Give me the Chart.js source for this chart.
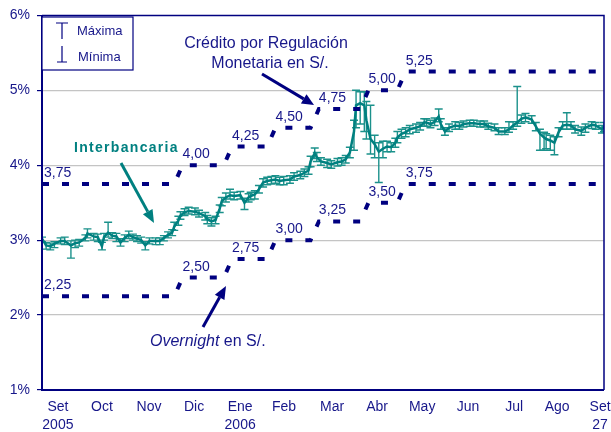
<!DOCTYPE html>
<html><head><meta charset="utf-8">
<script src="https://cdn.jsdelivr.net/npm/chart.js@4.4.1/dist/chart.umd.min.js"></script>
<style>html,body{margin:0;padding:0;background:#fff}#wrap{width:611px;height:432px;position:relative}canvas{display:block}</style>
</head><body><div id="wrap"><canvas id="c" width="611" height="432" style="width:611px;height:432px"></canvas></div>
<script>
// ---- data ----
const xTickLabels = [["Set","2005"],["Oct"],["Nov"],["Dic"],["Ene","2006"],["Feb"],["Mar"],["Abr"],["May"],["Jun"],["Jul"],["Ago"],["Set","27"]];
const xTickIdx = [7.7,29,51.8,73.6,95.9,117.1,140.4,162.2,184,206.2,228.5,249.3,270.1];
const yTicks = [1,2,3,4,5,6];

const dayIdx = [0,2,4,6,9,11,14,16,18,21,22,25,27,29,30,32,34,36,38,40,42,44,46,48,50,52,55,57,59,61,63,64,66,67,69,71,74,76,79,80,82,84,86,87,89,91,93,96,98,100,101,103,105,107,109,111,113,115,117,120,122,125,127,129,130,132,133,135,138,140,143,145,147,149,151,152,154,156,157,159,161,163,165,167,169,171,172,174,176,178,181,183,185,186,188,190,192,193,195,197,200,202,204,207,209,212,214,216,219,221,224,226,228,230,232,234,237,239,241,243,244,246,248,250,252,254,256,258,261,263,266,268,271,272];
const interbank = [3.02,2.93,2.92,2.95,2.99,2.99,2.93,2.96,2.97,3.03,3.09,3.05,3.04,2.92,3.04,3.10,3.06,3.05,2.97,3.03,3.07,3.04,3.02,3.00,2.93,2.99,2.99,2.99,3.03,3.07,3.10,3.18,3.26,3.33,3.37,3.39,3.38,3.36,3.32,3.28,3.25,3.27,3.42,3.52,3.57,3.60,3.59,3.60,3.50,3.57,3.59,3.61,3.68,3.77,3.79,3.80,3.81,3.79,3.80,3.81,3.85,3.87,3.90,3.93,4.05,4.16,4.11,4.05,4.03,4.01,4.04,4.05,4.08,4.17,4.45,4.80,4.83,4.80,4.60,4.35,4.28,4.18,4.22,4.25,4.24,4.30,4.37,4.42,4.44,4.48,4.50,4.52,4.57,4.57,4.55,4.58,4.65,4.55,4.45,4.50,4.53,4.52,4.55,4.56,4.56,4.55,4.55,4.52,4.50,4.45,4.45,4.48,4.53,4.57,4.62,4.64,4.61,4.52,4.42,4.37,4.35,4.33,4.30,4.44,4.53,4.54,4.53,4.48,4.46,4.50,4.54,4.53,4.48,4.52];
const interMax = [3.04,2.97,2.96,2.98,3.03,3.04,2.99,3.00,3.01,3.07,3.15,3.09,3.08,2.97,3.09,3.24,3.10,3.09,3.02,3.07,3.12,3.08,3.06,3.04,2.98,3.03,3.03,3.03,3.06,3.11,3.14,3.24,3.32,3.38,3.42,3.44,3.43,3.40,3.37,3.33,3.30,3.32,3.47,3.57,3.63,3.68,3.64,3.65,3.56,3.62,3.64,3.66,3.73,3.82,3.84,3.85,3.86,3.84,3.85,3.86,3.90,3.92,3.95,3.98,4.12,4.23,4.17,4.10,4.08,4.06,4.09,4.10,4.13,4.24,4.60,5.00,4.98,4.98,4.85,4.80,4.40,4.30,4.32,4.32,4.30,4.36,4.45,4.48,4.50,4.53,4.55,4.57,4.62,4.62,4.60,4.63,4.75,4.62,4.50,4.55,4.58,4.57,4.59,4.60,4.60,4.59,4.59,4.56,4.55,4.50,4.50,4.58,4.58,5.05,4.67,4.69,4.66,4.57,4.48,4.44,4.42,4.40,4.38,4.50,4.58,4.70,4.58,4.53,4.51,4.55,4.58,4.57,4.53,4.57];
const interMin = [2.98,2.88,2.87,2.90,2.95,2.94,2.76,2.90,2.92,2.99,3.03,3.00,2.98,2.87,3.00,3.04,3.02,2.98,2.92,2.98,3.02,3.00,2.98,2.96,2.87,2.95,2.94,2.94,2.99,3.03,3.06,3.13,3.20,3.28,3.33,3.35,3.34,3.31,3.27,3.22,3.19,3.22,3.37,3.46,3.51,3.55,3.54,3.55,3.41,3.51,3.54,3.55,3.63,3.71,3.74,3.75,3.76,3.74,3.74,3.76,3.80,3.82,3.85,3.88,3.98,4.09,4.05,4.00,3.97,3.96,3.99,4.00,4.03,4.10,4.20,4.50,4.55,4.45,4.35,4.15,4.10,3.77,4.10,4.18,4.18,4.24,4.30,4.36,4.38,4.42,4.44,4.47,4.52,4.52,4.50,4.53,4.58,4.48,4.40,4.45,4.48,4.48,4.51,4.52,4.52,4.51,4.51,4.48,4.46,4.41,4.41,4.44,4.48,4.52,4.56,4.58,4.56,4.46,4.20,4.20,4.22,4.20,4.14,4.38,4.48,4.48,4.48,4.43,4.40,4.44,4.49,4.48,4.43,4.45];

const stepIdx = [0,64,68,88,92,109,113,130,134,154,158,172,176,272];
const creditRate = [3.75,3.75,4.00,4.00,4.25,4.25,4.50,4.50,4.75,4.75,5.00,5.00,5.25,5.25];
const overnightRate = [2.25,2.25,2.50,2.50,2.75,2.75,3.00,3.00,3.25,3.25,3.50,3.50,3.75,3.75];

// ---- styles ----
const NAVY = '#000080';
const TXT = '#17178a';
const TEAL = '#008080';
const TEAL_BAR = '#1b918b';
const FONT = '"Liberation Sans", Arial, sans-serif';

const pts = (xs, ys) => xs.map((x, i) => ({x: x, y: ys[i]}));

const errorBars = {
  id: 'errorBars',
  beforeDatasetsDraw(chart) {
    const {ctx, chartArea: a, scales: {x, y}} = chart;
    ctx.save();
    ctx.beginPath(); ctx.rect(a.left, a.top, a.right - a.left, a.bottom - a.top); ctx.clip();
    ctx.strokeStyle = TEAL_BAR; ctx.lineWidth = 1.4;
    dayIdx.forEach((d, i) => {
      const px = x.getPixelForValue(d);
      const t = y.getPixelForValue(interMax[i]);
      const b = y.getPixelForValue(interMin[i]);
      ctx.beginPath();
      ctx.moveTo(px, t); ctx.lineTo(px, b);
      ctx.moveTo(px - 4, t); ctx.lineTo(px + 4, t);
      ctx.moveTo(px - 4, b); ctx.lineTo(px + 4, b);
      ctx.stroke();
    });
    ctx.restore();
  }
};

function arrow(ctx, x1, y1, x2, y2, color, w, hl, hw) {
  const ang = Math.atan2(y2 - y1, x2 - x1);
  const bx = x2 - hl * Math.cos(ang), by = y2 - hl * Math.sin(ang);
  ctx.save();
  ctx.strokeStyle = color; ctx.fillStyle = color; ctx.lineWidth = w;
  ctx.beginPath(); ctx.moveTo(x1, y1); ctx.lineTo(bx, by); ctx.stroke();
  ctx.beginPath();
  ctx.moveTo(x2, y2);
  ctx.lineTo(bx + hw / 2 * Math.sin(ang), by - hw / 2 * Math.cos(ang));
  ctx.lineTo(bx - hw / 2 * Math.sin(ang), by + hw / 2 * Math.cos(ang));
  ctx.closePath(); ctx.fill();
  ctx.restore();
}

const decor = {
  id: 'decor',
  afterDraw(chart) {
    const {ctx, chartArea: a, scales: {x, y}} = chart;
    ctx.save();
    // frame
    ctx.strokeStyle = NAVY;
    ctx.lineWidth = 1.5;
    ctx.beginPath(); ctx.moveTo(a.left, a.top); ctx.lineTo(a.right, a.top); ctx.lineTo(a.right, a.bottom); ctx.stroke();
    ctx.lineWidth = 2;
    ctx.beginPath(); ctx.moveTo(a.left, a.top); ctx.lineTo(a.left, a.bottom); ctx.lineTo(a.right, a.bottom); ctx.stroke();

    // level labels
    ctx.fillStyle = TXT; ctx.font = '14px ' + FONT; ctx.textBaseline = 'alphabetic'; ctx.textAlign = 'left';
    [creditRate, overnightRate].forEach(series => {
      for (let i = 0; i < stepIdx.length; i += 2) {
        const px = x.getPixelForValue(stepIdx[i]) + (i === 0 ? 2 : 0);
        const py = y.getPixelForValue(series[i]) - 7;
        ctx.fillText(series[i].toFixed(2).replace('.', ','), px, py);
      }
    });

    // legend box
    ctx.fillStyle = '#fff';
    ctx.fillRect(a.left, 17, 91, 53);
    ctx.strokeStyle = NAVY; ctx.lineWidth = 1.2;
    ctx.strokeRect(a.left, 17, 91, 53);
    ctx.beginPath();
    ctx.moveTo(62, 23); ctx.lineTo(62, 39); ctx.moveTo(56, 23); ctx.lineTo(68, 23);
    ctx.moveTo(62, 46); ctx.lineTo(62, 62); ctx.moveTo(57, 62); ctx.lineTo(67, 62);
    ctx.stroke();
    ctx.fillStyle = TXT; ctx.font = '13px ' + FONT; ctx.textBaseline = 'middle';
    ctx.fillText('Máxima', 77, 31);
    ctx.fillText('Mínima', 78, 57);

    // credit annotation
    ctx.font = '16px ' + FONT; ctx.textAlign = 'center';
    ctx.fillText('Crédito por Regulación', 266, 44);
    ctx.fillText('Monetaria en S/.', 270, 64);
    arrow(ctx, 262, 74, 314, 105, NAVY, 3, 12, 11);

    // interbank annotation
    ctx.textAlign = 'left'; ctx.textBaseline = 'alphabetic';
    ctx.fillStyle = TEAL; ctx.font = 'bold 14px ' + FONT;
    if ('letterSpacing' in ctx) ctx.letterSpacing = '1.3px';
    ctx.fillText('Interbancaria', 74, 152);
    if ('letterSpacing' in ctx) ctx.letterSpacing = '0px';
    arrow(ctx, 121, 163, 154, 223, TEAL, 3, 13, 11);

    // overnight annotation
    ctx.fillStyle = TXT;
    ctx.font = 'italic 16px ' + FONT;
    ctx.fillText('Overnight', 150, 346);
    const w = ctx.measureText('Overnight').width;
    ctx.font = '16px ' + FONT;
    ctx.fillText(' en S/.', 150 + w, 346);
    arrow(ctx, 203, 327, 226, 286, NAVY, 3, 13, 11);
    ctx.restore();
  }
};

new Chart(document.getElementById('c'), {
  type: 'line',
  data: {
    datasets: [
      {label: 'Crédito por Regulación Monetaria', data: pts(stepIdx, creditRate), borderColor: NAVY, borderWidth: 4, borderDash: [7, 13], borderCapStyle: 'butt', pointRadius: 0, tension: 0, fill: false},
      {label: 'Overnight', data: pts(stepIdx, overnightRate), borderColor: NAVY, borderWidth: 4, borderDash: [7, 13], borderCapStyle: 'butt', pointRadius: 0, tension: 0, fill: false},
      {label: 'Interbancaria', data: pts(dayIdx, interbank), borderColor: TEAL, borderWidth: 2.5, pointRadius: 0, tension: 0, fill: false}
    ]
  },
  options: {
    responsive: false,
    maintainAspectRatio: false,
    animation: false,
    devicePixelRatio: 1,
    layout: {padding: {left: 0, right: 7, top: 14, bottom: 0}},
    plugins: {legend: {display: false}, tooltip: {enabled: false}},
    scales: {
      x: {
        type: 'linear', min: 0, max: 272,
        afterBuildTicks: s => { s.ticks = xTickIdx.map(v => ({value: v})); },
        afterFit: s => { s.height = 42; s.paddingLeft = 0; s.paddingRight = 0; },
        grid: {display: false, drawTicks: false},
        border: {display: false},
        ticks: {
          autoSkip: false, maxRotation: 0, padding: 8, color: TXT,
          font: {family: FONT, size: 14, lineHeight: 1.3},
          callback: (v, i) => xTickLabels[i]
        }
      },
      y: {
        min: 1, max: 6,
        afterBuildTicks: s => { s.ticks = yTicks.map(v => ({value: v})); },
        afterFit: s => { s.width = 42; },
        grid: {
          color: c => (c.tick && (c.tick.value === 1 || c.tick.value === 6)) ? 'rgba(0,0,0,0)' : '#c4c4c4',
          tickColor: NAVY, tickLength: 5, lineWidth: 1.2, tickWidth: 1.2
        },
        border: {display: false},
        ticks: {color: TXT, padding: 7, font: {family: FONT, size: 14}, callback: v => v + '%'}
      }
    }
  },
  plugins: [errorBars, decor]
});
</script>
</body></html>
